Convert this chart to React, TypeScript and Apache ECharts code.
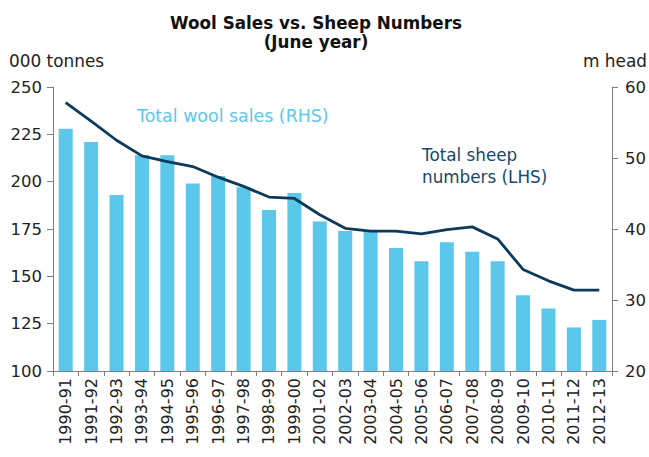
import React, { useEffect, useRef } from "react";
import * as echarts from "echarts";

const categories = [
  "1990-91", "1991-92", "1992-93", "1993-94", "1994-95", "1995-96", "1996-97",
  "1997-98", "1998-99", "1999-00", "2001-02", "2002-03", "2003-04", "2004-05",
  "2005-06", "2006-07", "2007-08", "2008-09", "2009-10", "2010-11", "2011-12", "2012-13",
];
const woolSales = [228, 221, 193, 214, 214, 199, 203, 197, 185, 194, 179, 174, 174, 165, 158, 168, 163, 158, 140, 133, 123, 127];
const sheepNumbers = [57.8, 55.2, 52.5, 50.3, 49.5, 48.8, 47.3, 46.0, 44.5, 44.3, 42.0, 40.1, 39.7, 39.7, 39.3, 39.9, 40.3, 38.6, 34.3, 32.7, 31.4, 31.4];
const leftTicks = { min: 100, max: 250, interval: 25 };
const rightTicks = { min: 20, max: 60, interval: 10 };

const FONT = "DejaVu Sans";
const BAR = "#5BC7EA";
const LINE = "#0B3A5B";
const AXIS = "#7f7f7f";
const LABEL = "#222222";

export default function App() {
  const ref = useRef<HTMLDivElement>(null);
  useEffect(() => {
    if (!ref.current) return;
    const chart = echarts.init(ref.current, null, { renderer: "svg" });
    chart.setOption({
      animation: false,
      backgroundColor: "#ffffff",
      grid: { left: 53, right: 37, top: 87, bottom: 86, containLabel: false },
      graphic: [
        { type: "text", x: 316, y: 23, style: { text: "Wool Sales vs. Sheep Numbers", font: `bold 16.8px "${FONT}"`, fill: "#111", align: "center", verticalAlign: "middle" } },
        { type: "text", x: 316, y: 42, style: { text: "(June year)", font: `bold 16.8px "${FONT}"`, fill: "#111", align: "center", verticalAlign: "middle" } },
        { type: "text", x: 9, y: 61, style: { text: "000 tonnes", font: `16.9px "${FONT}"`, fill: LABEL, align: "left", verticalAlign: "middle" } },
        { type: "text", x: 647, y: 61, style: { text: "m head", font: `16.9px "${FONT}"`, fill: LABEL, align: "right", verticalAlign: "middle" } },
        { type: "text", x: 137, y: 116, style: { text: "Total wool sales (RHS)", font: `17.4px "${FONT}"`, fill: "#5CC8EC", align: "left", verticalAlign: "middle" } },
        { type: "text", x: 422, y: 155, style: { text: "Total sheep", font: `16.8px "${FONT}"`, fill: "#17486C", align: "left", verticalAlign: "middle" } },
        { type: "text", x: 422, y: 177, style: { text: "numbers (LHS)", font: `16.8px "${FONT}"`, fill: "#17486C", align: "left", verticalAlign: "middle" } },
      ],
      xAxis: {
        type: "category",
        data: categories,
        boundaryGap: true,
        axisLine: { lineStyle: { color: AXIS, width: 1 } },
        axisTick: { show: true, length: 5, lineStyle: { color: AXIS } },
        axisLabel: { rotate: 90, interval: 0, margin: 7, fontSize: 16, fontFamily: FONT, color: LABEL },
        splitLine: { show: false },
      },
      yAxis: [
        {
          type: "value",
          position: "left",
          ...leftTicks,
          axisLine: { show: true, lineStyle: { color: AXIS, width: 1 } },
          axisTick: { show: true, length: 6, lineStyle: { color: AXIS } },
          axisLabel: { margin: 11, fontSize: 16.5, fontFamily: FONT, color: LABEL },
          splitLine: { show: false },
        },
        {
          type: "value",
          position: "right",
          ...rightTicks,
          axisLine: { show: true, lineStyle: { color: AXIS, width: 1 } },
          axisTick: { show: true, length: 6, lineStyle: { color: AXIS } },
          axisLabel: { margin: 13, fontSize: 16.5, fontFamily: FONT, color: LABEL },
          splitLine: { show: false },
        },
      ],
      series: [
        {
          name: "Total wool sales",
          type: "bar",
          yAxisIndex: 0,
          data: woolSales,
          barWidth: 14,
          itemStyle: { color: BAR },
        },
        {
          name: "Total sheep numbers",
          type: "line",
          yAxisIndex: 1,
          data: sheepNumbers,
          symbol: "none",
          lineStyle: { color: LINE, width: 2.8 },
          z: 5,
        },
      ],
    });
    return () => chart.dispose();
  }, []);
  return <div ref={ref} style={{ position: "fixed", left: 0, top: 0, width: 649, height: 457 }} />;
}
